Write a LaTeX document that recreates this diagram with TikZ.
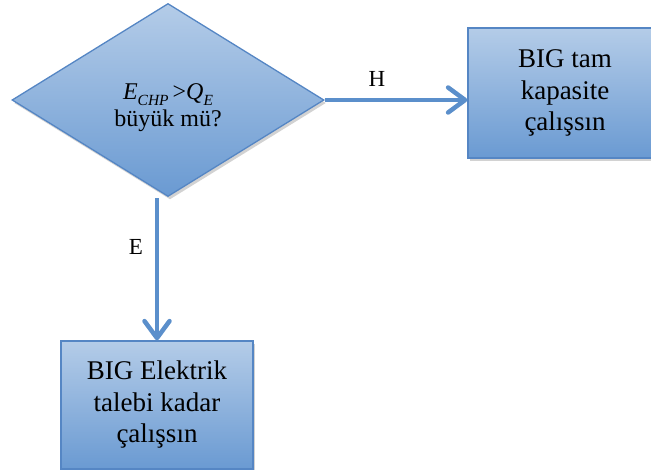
\documentclass[tikz,border=0pt]{standalone}
\usepackage{fontspec}
\setmainfont{Liberation Serif}
\usetikzlibrary{shapes.geometric,arrows.meta,shadows}
\definecolor{topblue}{HTML}{B4CCE8}
\definecolor{botblue}{HTML}{6A9AD2}
\definecolor{edgeblue}{HTML}{5586C4}
\definecolor{arrblue}{HTML}{5B8FCB}
\tikzset{
  flowfill/.style={top color=topblue, bottom color=botblue, draw=edgeblue, line width=1.3pt,
    drop shadow={shadow xshift=2pt, shadow yshift=-3pt, opacity=0.25, fill=black!70}},
  procbox/.style={flowfill, rectangle, align=center, inner sep=0pt,
    font=\fontsize{27}{31.5}\selectfont},
  decbox/.style={flowfill, diamond, inner sep=0pt,
    minimum width=312pt, minimum height=193pt},
  dectext/.style={align=center, inner sep=0pt, font=\fontsize{24}{27}\selectfont},
  flowarr/.style={draw=arrblue, line width=4.5pt,
    -{Straight Barb[length=17pt,width=25pt,round]}},
  edgelabel/.style={font=\fontsize{23}{26}\selectfont, inner sep=0pt}
}
\newcommand{\subtxt}[1]{\raisebox{-0.25em}{\fontsize{15.5}{15}\selectfont #1}}
\begin{document}
\begin{tikzpicture}[x=1pt,y=-1pt]
\useasboundingbox (0,0) rectangle (651,470);
\fill[white] (0,0) rectangle (651,470);
\node[decbox] (d) at (168,100) {};
\node[dectext] (dt) at (168,108) {{\itshape E\subtxt{CHP}}\,>{\itshape Q\subtxt{E}}\\büyük mü?};
\node[procbox, minimum width=194pt, minimum height=130pt] (r) at (565,93) {BIG tam\\kapasite\\çalışsın};
\node[procbox, minimum width=192pt, minimum height=128pt] (b) at (157,405) {BIG Elektrik\\talebi kadar\\çalışsın};
\draw[flowarr] (d.east) -- (d.east -| r.west);
\draw[flowarr] (d.south -| b.north) ++(0,1) -- (b.north);
\node[edgelabel] (h) at (377,79) {H};
\node[edgelabel] (e) at (136,247) {E};
\end{tikzpicture}
\end{document}
